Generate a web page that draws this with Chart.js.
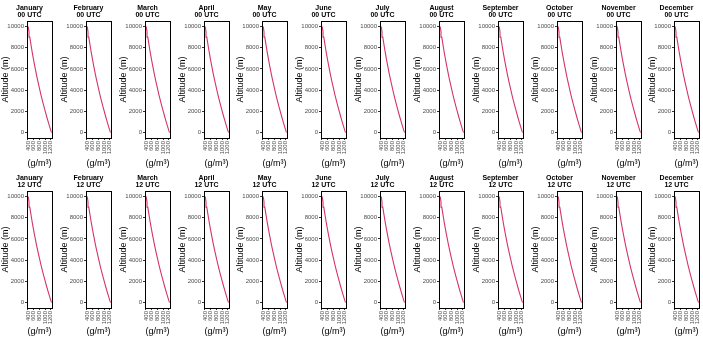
<!DOCTYPE html>
<html>
<head>
<meta charset="utf-8">
<script src="https://cdn.jsdelivr.net/npm/chart.js@4.4.1/dist/chart.umd.min.js"></script>
<style>
  html, body { margin: 0; padding: 0; background: #fff; overflow: hidden; }
  #wrap { position: relative; width: 703px; height: 338px; }
  .panel { position: absolute; width: 59px; }
</style>
</head>
<body>
<div id="wrap"></div>
<script>
// 패널 구분
const months = ['January', 'February', 'March', 'April', 'May', 'June',
                'July', 'August', 'September', 'October', 'November', 'December'];
const hours = ['00 UTC', '12 UTC'];

// 고도 (m) / 밀도 (g/m3)
const altitude = [0, 500, 1000, 1500, 2000, 2500, 3000, 3500, 4000, 4500, 5000,
                  5500, 6000, 6500, 7000, 7500, 8000, 8500, 9000, 9500, 10000];
const density = [1225, 1167, 1112, 1058, 1007, 957, 909, 863, 819, 777, 736,
                 697, 660, 624, 590, 557, 526, 496, 467, 440, 413];

const xTicks = [400, 600, 800, 1000, 1200];
const yTicks = [0, 2000, 4000, 6000, 8000, 10000];

// 패널 테두리
const boxPlugin = {
    id: 'box',
    afterDraw(chart) {
        const { ctx, chartArea: a } = chart;
        ctx.save();
        ctx.strokeStyle = '#000';
        ctx.lineWidth = 1;
        ctx.strokeRect(Math.round(a.left) + 0.5, Math.round(a.top) + 0.5,
                       Math.round(a.right - a.left), Math.round(a.bottom - a.top));
        ctx.restore();
    }
};

const wrap = document.getElementById('wrap');

hours.forEach((hour, row) => {
    const panelH = row === 0 ? 170 : 168;
    const xAxisH = row === 0 ? 32 : 30;
    months.forEach((month, col) => {
        const div = document.createElement('div');
        div.className = 'panel';
        div.style.left = (col * 58.85) + 'px';
        div.style.top = (row * 170) + 'px';
        div.style.height = panelH + 'px';
        const canvas = document.createElement('canvas');
        div.appendChild(canvas);
        wrap.appendChild(div);

        new Chart(canvas.getContext('2d'), {
            type: 'line',
            data: {
                datasets: [{
                    data: altitude.map((h, i) => ({ x: density[i], y: h })),
                    borderColor: '#d4336a',
                    borderWidth: 1.1,
                    pointRadius: 0,
                    tension: 0,
                    fill: false
                }]
            },
            options: {
                responsive: true,
                maintainAspectRatio: false,
                animation: false,
                layout: { padding: 0 },
                plugins: {
                    legend: { display: false },
                    tooltip: { enabled: false },
                    title: {
                        display: true,
                        text: [month, hour],
                        color: '#000',
                        font: { family: 'Liberation Sans', size: 7, weight: 'bold', lineHeight: 1.05 },
                        padding: { top: 4.5, bottom: 2 }
                    }
                },
                scales: {
                    x: {
                        type: 'linear',
                        min: 370,
                        max: 1240,
                        afterBuildTicks: (axis) => { axis.ticks = xTicks.map(v => ({ value: v })); },
                        afterFit: (scale) => { scale.height = xAxisH; },
                        ticks: {
                            autoSkip: false,
                            minRotation: 90,
                            maxRotation: 90,
                            padding: 1,
                            color: '#4d4d4d',
                            font: { family: 'Liberation Sans', size: 6 },
                            callback: (value) => String(value)
                        },
                        grid: { drawOnChartArea: false, tickLength: 2, color: '#333' },
                        border: { display: true, color: '#000' },
                        title: {
                            display: true,
                            text: '(g/m³)',
                            color: '#000',
                            padding: { top: 0, bottom: 1 },
                            font: { family: 'Liberation Sans', size: 9 }
                        }
                    },
                    y: {
                        type: 'linear',
                        min: -500,
                        max: 10500,
                        afterBuildTicks: (axis) => { axis.ticks = yTicks.map(v => ({ value: v })); },
                        afterFit: (scale) => { scale.width = 27; },
                        ticks: {
                            autoSkip: false,
                            padding: 1,
                            color: '#4d4d4d',
                            font: { family: 'Liberation Sans', size: 6 },
                            callback: (value) => String(value)
                        },
                        grid: { drawOnChartArea: false, tickLength: 2, color: '#333' },
                        border: { display: true, color: '#000' },
                        title: {
                            display: true,
                            text: 'Altitude (m)',
                            color: '#000',
                            padding: { top: 0, bottom: 0 },
                            font: { family: 'Liberation Sans', size: 9 }
                        }
                    }
                }
            },
            plugins: [boxPlugin]
        });
    });
});
</script>
</body>
</html>
